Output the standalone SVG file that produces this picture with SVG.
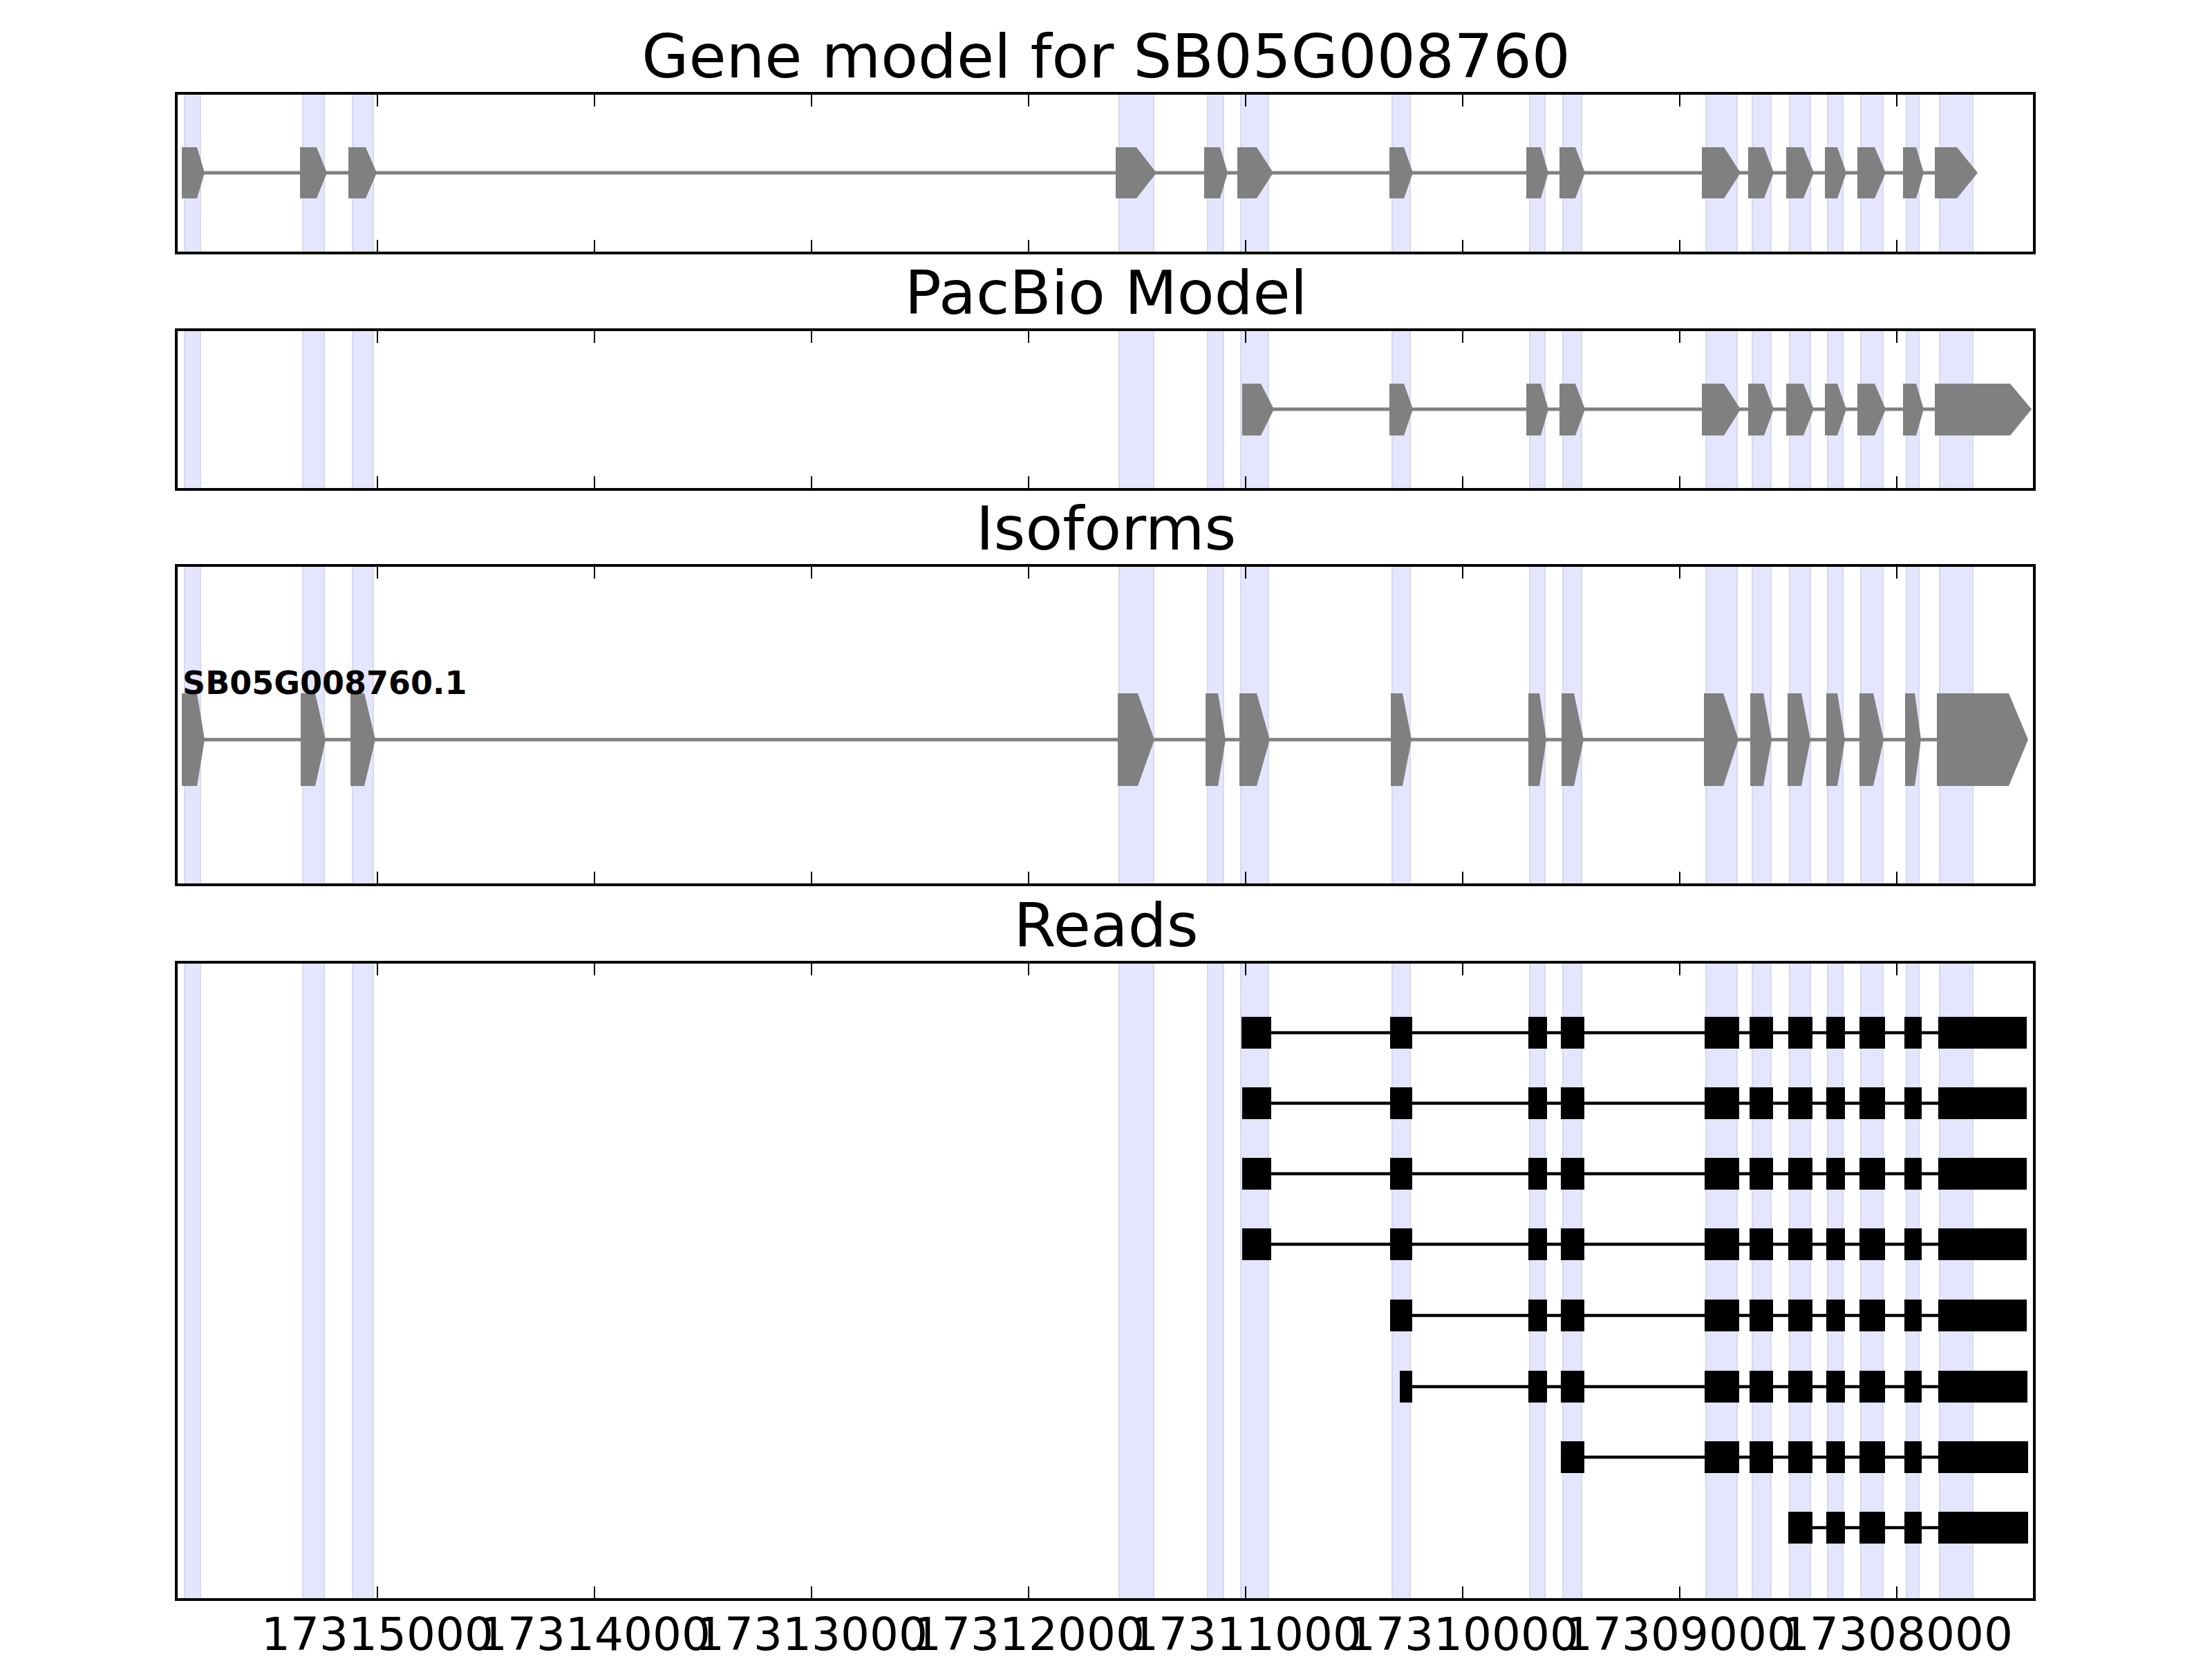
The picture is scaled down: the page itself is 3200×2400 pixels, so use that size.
<svg xmlns="http://www.w3.org/2000/svg" width="3200" height="2400" viewBox="0 0 3200 2400">
<style>
.bg{fill:#ffffff}
.span{fill:#E5E5FF;stroke:#D8D8EE;stroke-width:2}
.frame{fill:none;stroke:#000000;stroke-width:4}
.tick{stroke:#000000;stroke-width:2}
.title{font-family:"DejaVu Sans",sans-serif;font-size:88px;fill:#000000;text-anchor:middle}
.tl{font-family:"DejaVu Sans",sans-serif;font-size:66px;fill:#000000;text-anchor:middle}
.iso{font-family:"DejaVu Sans",sans-serif;font-size:46px;font-weight:bold;fill:#000000}
.exon{fill:#808080;stroke:none}
.intron{stroke:#808080;stroke-width:5}
.rb{fill:#000000}
.rl{stroke:#000000;stroke-width:4.5}
</style>
<rect class="bg" x="0" y="0" width="3200" height="2400"/>

<g id="titles">
<text class="title" x="1600" y="112">Gene model for SB05G008760</text>
<text class="title" x="1600" y="454">PacBio Model</text>
<text class="title" x="1600" y="795">Isoforms</text>
<text class="title" x="1600" y="1369">Reads</text>
</g>

<!-- Panel 1 -->
<g id="panel-gene-model">
<g class="span">
<rect x="267" y="135" width="23" height="231"/><rect x="438" y="135" width="31" height="231"/><rect x="510" y="135" width="30" height="231"/>
<rect x="1619" y="135" width="50" height="231"/><rect x="1747" y="135" width="23" height="231"/><rect x="1795" y="135" width="40" height="231"/>
<rect x="2014" y="135" width="26" height="231"/><rect x="2213" y="135" width="22" height="231"/><rect x="2261" y="135" width="27" height="231"/>
<rect x="2468" y="135" width="45" height="231"/><rect x="2535" y="135" width="27" height="231"/><rect x="2589" y="135" width="30" height="231"/>
<rect x="2644" y="135" width="22" height="231"/><rect x="2692" y="135" width="32" height="231"/><rect x="2758" y="135" width="18" height="231"/>
<rect x="2806" y="135" width="48" height="231"/>
</g>
<line class="intron" x1="270" y1="250" x2="2830" y2="250"/>
<g class="exon">
<polygon points="263,213 285,213 296,250 285,287 263,287"/>
<polygon points="434,213 458,213 473,250 458,287 434,287"/>
<polygon points="504,213 529,213 545,250 529,287 504,287"/>
<polygon points="1614,213 1644,213 1673,250 1644,287 1614,287"/>
<polygon points="1742,213 1765,213 1776,250 1765,287 1742,287"/>
<polygon points="1790,213 1818,213 1842,250 1818,287 1790,287"/>
<polygon points="2010,213 2031,213 2044,250 2031,287 2010,287"/>
<polygon points="2208,213 2229,213 2240,250 2229,287 2208,287"/>
<polygon points="2256,213 2279,213 2293,250 2279,287 2256,287"/>
<polygon points="2462,213 2494,213 2518,250 2494,287 2462,287"/>
<polygon points="2529,213 2552,213 2566,250 2552,287 2529,287"/>
<polygon points="2584,213 2609,213 2624,250 2609,287 2584,287"/>
<polygon points="2640,213 2658,213 2671,250 2658,287 2640,287"/>
<polygon points="2687,213 2712,213 2728,250 2712,287 2687,287"/>
<polygon points="2753,213 2772,213 2783,250 2772,287 2753,287"/>
<polygon points="2799,213 2831,213 2861,250 2831,287 2799,287"/>
</g>
<g class="tick">
<line x1="546" y1="135" x2="546" y2="154"/><line x1="860" y1="135" x2="860" y2="154"/><line x1="1174" y1="135" x2="1174" y2="154"/><line x1="1488" y1="135" x2="1488" y2="154"/><line x1="1802" y1="135" x2="1802" y2="154"/><line x1="2116" y1="135" x2="2116" y2="154"/><line x1="2430" y1="135" x2="2430" y2="154"/><line x1="2744" y1="135" x2="2744" y2="154"/>
<line x1="546" y1="366" x2="546" y2="347"/><line x1="860" y1="366" x2="860" y2="347"/><line x1="1174" y1="366" x2="1174" y2="347"/><line x1="1488" y1="366" x2="1488" y2="347"/><line x1="1802" y1="366" x2="1802" y2="347"/><line x1="2116" y1="366" x2="2116" y2="347"/><line x1="2430" y1="366" x2="2430" y2="347"/><line x1="2744" y1="366" x2="2744" y2="347"/>
</g>
<rect class="frame" x="255" y="135" width="2688" height="231"/>
</g>

<!-- Panel 2 -->
<g id="panel-pacbio">
<g class="span">
<rect x="267" y="477" width="23" height="231"/><rect x="438" y="477" width="31" height="231"/><rect x="510" y="477" width="30" height="231"/>
<rect x="1619" y="477" width="50" height="231"/><rect x="1747" y="477" width="23" height="231"/><rect x="1795" y="477" width="40" height="231"/>
<rect x="2014" y="477" width="26" height="231"/><rect x="2213" y="477" width="22" height="231"/><rect x="2261" y="477" width="27" height="231"/>
<rect x="2468" y="477" width="45" height="231"/><rect x="2535" y="477" width="27" height="231"/><rect x="2589" y="477" width="30" height="231"/>
<rect x="2644" y="477" width="22" height="231"/><rect x="2692" y="477" width="32" height="231"/><rect x="2758" y="477" width="18" height="231"/>
<rect x="2806" y="477" width="48" height="231"/>
</g>
<line class="intron" x1="1800" y1="592" x2="2900" y2="592"/>
<g class="exon">
<polygon points="1797,555 1824,555 1843,592 1824,630 1797,630"/>
<polygon points="2010,555 2031,555 2044,592 2031,630 2010,630"/>
<polygon points="2208,555 2229,555 2240,592 2229,630 2208,630"/>
<polygon points="2256,555 2279,555 2293,592 2279,630 2256,630"/>
<polygon points="2462,555 2494,555 2518,592 2494,630 2462,630"/>
<polygon points="2529,555 2552,555 2566,592 2552,630 2529,630"/>
<polygon points="2584,555 2609,555 2624,592 2609,630 2584,630"/>
<polygon points="2640,555 2658,555 2671,592 2658,630 2640,630"/>
<polygon points="2687,555 2712,555 2728,592 2712,630 2687,630"/>
<polygon points="2753,555 2772,555 2783,592 2772,630 2753,630"/>
<polygon points="2799,555 2908,555 2939,592 2908,630 2799,630"/>
</g>
<g class="tick">
<line x1="546" y1="477" x2="546" y2="496"/><line x1="860" y1="477" x2="860" y2="496"/><line x1="1174" y1="477" x2="1174" y2="496"/><line x1="1488" y1="477" x2="1488" y2="496"/><line x1="1802" y1="477" x2="1802" y2="496"/><line x1="2116" y1="477" x2="2116" y2="496"/><line x1="2430" y1="477" x2="2430" y2="496"/><line x1="2744" y1="477" x2="2744" y2="496"/>
<line x1="546" y1="708" x2="546" y2="689"/><line x1="860" y1="708" x2="860" y2="689"/><line x1="1174" y1="708" x2="1174" y2="689"/><line x1="1488" y1="708" x2="1488" y2="689"/><line x1="1802" y1="708" x2="1802" y2="689"/><line x1="2116" y1="708" x2="2116" y2="689"/><line x1="2430" y1="708" x2="2430" y2="689"/><line x1="2744" y1="708" x2="2744" y2="689"/>
</g>
<rect class="frame" x="255" y="477" width="2688" height="231"/>
</g>

<!-- Panel 3 -->
<g id="panel-isoforms">
<g class="span">
<rect x="267" y="818" width="23" height="462"/><rect x="438" y="818" width="31" height="462"/><rect x="510" y="818" width="30" height="462"/>
<rect x="1619" y="818" width="50" height="462"/><rect x="1747" y="818" width="23" height="462"/><rect x="1795" y="818" width="40" height="462"/>
<rect x="2014" y="818" width="26" height="462"/><rect x="2213" y="818" width="22" height="462"/><rect x="2261" y="818" width="27" height="462"/>
<rect x="2468" y="818" width="45" height="462"/><rect x="2535" y="818" width="27" height="462"/><rect x="2589" y="818" width="30" height="462"/>
<rect x="2644" y="818" width="22" height="462"/><rect x="2692" y="818" width="32" height="462"/><rect x="2758" y="818" width="18" height="462"/>
<rect x="2806" y="818" width="48" height="462"/>
</g>
<line class="intron" x1="270" y1="1070" x2="2850" y2="1070"/>
<g class="exon">
<polygon points="263,1003 285,1003 296,1070 285,1137 263,1137"/>
<polygon points="435,1003 456,1003 471,1070 456,1137 435,1137"/>
<polygon points="507,1003 527,1003 543,1070 527,1137 507,1137"/>
<polygon points="1617,1003 1646,1003 1670,1070 1646,1137 1617,1137"/>
<polygon points="1744,1003 1762,1003 1773,1070 1762,1137 1744,1137"/>
<polygon points="1793,1003 1818,1003 1837,1070 1818,1137 1793,1137"/>
<polygon points="2012,1003 2029,1003 2042,1070 2029,1137 2012,1137"/>
<polygon points="2211,1003 2227,1003 2237,1070 2227,1137 2211,1137"/>
<polygon points="2259,1003 2277,1003 2291,1070 2277,1137 2259,1137"/>
<polygon points="2465,1003 2493,1003 2515,1070 2493,1137 2465,1137"/>
<polygon points="2532,1003 2551,1003 2563,1070 2551,1137 2532,1137"/>
<polygon points="2586,1003 2606,1003 2619,1070 2606,1137 2586,1137"/>
<polygon points="2642,1003 2658,1003 2669,1070 2658,1137 2642,1137"/>
<polygon points="2690,1003 2710,1003 2725,1070 2710,1137 2690,1137"/>
<polygon points="2756,1003 2770,1003 2779,1070 2770,1137 2756,1137"/>
<polygon points="2802,1003 2906,1003 2934,1070 2906,1137 2802,1137"/>
</g>
<text class="iso" x="264" y="1004">SB05G008760.1</text>
<g class="tick">
<line x1="546" y1="818" x2="546" y2="837"/><line x1="860" y1="818" x2="860" y2="837"/><line x1="1174" y1="818" x2="1174" y2="837"/><line x1="1488" y1="818" x2="1488" y2="837"/><line x1="1802" y1="818" x2="1802" y2="837"/><line x1="2116" y1="818" x2="2116" y2="837"/><line x1="2430" y1="818" x2="2430" y2="837"/><line x1="2744" y1="818" x2="2744" y2="837"/>
<line x1="546" y1="1280" x2="546" y2="1261"/><line x1="860" y1="1280" x2="860" y2="1261"/><line x1="1174" y1="1280" x2="1174" y2="1261"/><line x1="1488" y1="1280" x2="1488" y2="1261"/><line x1="1802" y1="1280" x2="1802" y2="1261"/><line x1="2116" y1="1280" x2="2116" y2="1261"/><line x1="2430" y1="1280" x2="2430" y2="1261"/><line x1="2744" y1="1280" x2="2744" y2="1261"/>
</g>
<rect class="frame" x="255" y="818" width="2688" height="462"/>
</g>

<!-- Panel 4 -->
<g id="panel-reads">
<g class="span">
<rect x="267" y="1392" width="23" height="922"/><rect x="438" y="1392" width="31" height="922"/><rect x="510" y="1392" width="30" height="922"/>
<rect x="1619" y="1392" width="50" height="922"/><rect x="1747" y="1392" width="23" height="922"/><rect x="1795" y="1392" width="40" height="922"/>
<rect x="2014" y="1392" width="26" height="922"/><rect x="2213" y="1392" width="22" height="922"/><rect x="2261" y="1392" width="27" height="922"/>
<rect x="2468" y="1392" width="45" height="922"/><rect x="2535" y="1392" width="27" height="922"/><rect x="2589" y="1392" width="30" height="922"/>
<rect x="2644" y="1392" width="22" height="922"/><rect x="2692" y="1392" width="32" height="922"/><rect x="2758" y="1392" width="18" height="922"/>
<rect x="2806" y="1392" width="48" height="922"/>
</g>
<g id="reads">
<g id="read1">
<line class="rl" x1="1796" y1="1494" x2="2932" y2="1494"/>
<g class="rb"><rect x="1796" y="1471" width="43" height="46"/><rect x="2011" y="1471" width="32" height="46"/><rect x="2211" y="1471" width="27" height="46"/><rect x="2258" y="1471" width="34" height="46"/><rect x="2466" y="1471" width="50" height="46"/><rect x="2531" y="1471" width="34" height="46"/><rect x="2587" y="1471" width="35" height="46"/><rect x="2642" y="1471" width="27" height="46"/><rect x="2690" y="1471" width="37" height="46"/><rect x="2755" y="1471" width="25" height="46"/><rect x="2804" y="1471" width="128" height="46"/></g>
</g>
<g id="read2">
<line class="rl" x1="1797" y1="1596" x2="2932" y2="1596"/>
<g class="rb"><rect x="1797" y="1573" width="42" height="46"/><rect x="2011" y="1573" width="32" height="46"/><rect x="2211" y="1573" width="27" height="46"/><rect x="2258" y="1573" width="34" height="46"/><rect x="2466" y="1573" width="50" height="46"/><rect x="2531" y="1573" width="34" height="46"/><rect x="2587" y="1573" width="35" height="46"/><rect x="2642" y="1573" width="27" height="46"/><rect x="2690" y="1573" width="37" height="46"/><rect x="2755" y="1573" width="25" height="46"/><rect x="2804" y="1573" width="128" height="46"/></g>
</g>
<g id="read3">
<line class="rl" x1="1797" y1="1698" x2="2932" y2="1698"/>
<g class="rb"><rect x="1797" y="1675" width="42" height="46"/><rect x="2011" y="1675" width="32" height="46"/><rect x="2211" y="1675" width="27" height="46"/><rect x="2258" y="1675" width="34" height="46"/><rect x="2466" y="1675" width="50" height="46"/><rect x="2531" y="1675" width="34" height="46"/><rect x="2587" y="1675" width="35" height="46"/><rect x="2642" y="1675" width="27" height="46"/><rect x="2690" y="1675" width="37" height="46"/><rect x="2755" y="1675" width="25" height="46"/><rect x="2804" y="1675" width="128" height="46"/></g>
</g>
<g id="read4">
<line class="rl" x1="1797" y1="1800" x2="2932" y2="1800"/>
<g class="rb"><rect x="1797" y="1777" width="42" height="46"/><rect x="2011" y="1777" width="32" height="46"/><rect x="2211" y="1777" width="27" height="46"/><rect x="2258" y="1777" width="34" height="46"/><rect x="2466" y="1777" width="50" height="46"/><rect x="2531" y="1777" width="34" height="46"/><rect x="2587" y="1777" width="35" height="46"/><rect x="2642" y="1777" width="27" height="46"/><rect x="2690" y="1777" width="37" height="46"/><rect x="2755" y="1777" width="25" height="46"/><rect x="2804" y="1777" width="128" height="46"/></g>
</g>
<g id="read5">
<line class="rl" x1="2011" y1="1903" x2="2932" y2="1903"/>
<g class="rb"><rect x="2011" y="1880" width="32" height="46"/><rect x="2211" y="1880" width="27" height="46"/><rect x="2258" y="1880" width="34" height="46"/><rect x="2466" y="1880" width="50" height="46"/><rect x="2531" y="1880" width="34" height="46"/><rect x="2587" y="1880" width="35" height="46"/><rect x="2642" y="1880" width="27" height="46"/><rect x="2690" y="1880" width="37" height="46"/><rect x="2755" y="1880" width="25" height="46"/><rect x="2804" y="1880" width="128" height="46"/></g>
</g>
<g id="read6">
<line class="rl" x1="2025" y1="2006" x2="2932" y2="2006"/>
<g class="rb"><rect x="2025" y="1983" width="18" height="46"/><rect x="2211" y="1983" width="27" height="46"/><rect x="2258" y="1983" width="34" height="46"/><rect x="2466" y="1983" width="50" height="46"/><rect x="2531" y="1983" width="34" height="46"/><rect x="2587" y="1983" width="35" height="46"/><rect x="2642" y="1983" width="27" height="46"/><rect x="2690" y="1983" width="37" height="46"/><rect x="2755" y="1983" width="25" height="46"/><rect x="2804" y="1983" width="129" height="46"/></g>
</g>
<g id="read7">
<line class="rl" x1="2258" y1="2108" x2="2934" y2="2108"/>
<g class="rb"><rect x="2258" y="2085" width="34" height="46"/><rect x="2466" y="2085" width="50" height="46"/><rect x="2531" y="2085" width="34" height="46"/><rect x="2587" y="2085" width="35" height="46"/><rect x="2642" y="2085" width="27" height="46"/><rect x="2690" y="2085" width="37" height="46"/><rect x="2755" y="2085" width="25" height="46"/><rect x="2804" y="2085" width="130" height="46"/></g>
</g>
<g id="read8">
<line class="rl" x1="2587" y1="2210" x2="2934" y2="2210"/>
<g class="rb"><rect x="2587" y="2187" width="35" height="46"/><rect x="2642" y="2187" width="27" height="46"/><rect x="2690" y="2187" width="37" height="46"/><rect x="2755" y="2187" width="25" height="46"/><rect x="2804" y="2187" width="130" height="46"/></g>
</g>
</g>
<g class="tick">
<line x1="546" y1="1392" x2="546" y2="1411"/><line x1="860" y1="1392" x2="860" y2="1411"/><line x1="1174" y1="1392" x2="1174" y2="1411"/><line x1="1488" y1="1392" x2="1488" y2="1411"/><line x1="1802" y1="1392" x2="1802" y2="1411"/><line x1="2116" y1="1392" x2="2116" y2="1411"/><line x1="2430" y1="1392" x2="2430" y2="1411"/><line x1="2744" y1="1392" x2="2744" y2="1411"/>
<line x1="546" y1="2314" x2="546" y2="2295"/><line x1="860" y1="2314" x2="860" y2="2295"/><line x1="1174" y1="2314" x2="1174" y2="2295"/><line x1="1488" y1="2314" x2="1488" y2="2295"/><line x1="1802" y1="2314" x2="1802" y2="2295"/><line x1="2116" y1="2314" x2="2116" y2="2295"/><line x1="2430" y1="2314" x2="2430" y2="2295"/><line x1="2744" y1="2314" x2="2744" y2="2295"/>
</g>
<rect class="frame" x="255" y="1392" width="2688" height="922"/>
</g>

<g id="axis-labels">
<text class="tl" x="546" y="2387">17315000</text>
<text class="tl" x="860" y="2387">17314000</text>
<text class="tl" x="1174" y="2387">17313000</text>
<text class="tl" x="1488" y="2387">17312000</text>
<text class="tl" x="1802" y="2387">17311000</text>
<text class="tl" x="2116" y="2387">17310000</text>
<text class="tl" x="2430" y="2387">17309000</text>
<text class="tl" x="2744" y="2387">17308000</text>
</g>
</svg>
